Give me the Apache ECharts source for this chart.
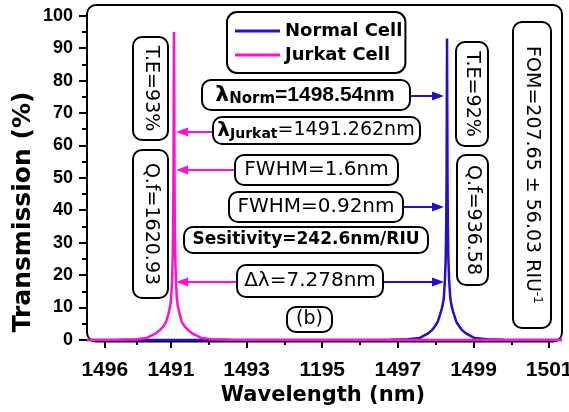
<!DOCTYPE html>
<html><head><meta charset="utf-8">
<script src="https://cdn.jsdelivr.net/npm/echarts@6/dist/echarts.min.js"></script>
<style>html,body{margin:0;padding:0;background:#fff}#c{width:569px;height:412px}</style>
</head><body><div id="c"></div>
<script>
// ---- data ----
const normalX = [1488.78, 1496.80, 1497.25, 1497.58, 1497.80, 1497.91, 1497.98, 1498.05, 1498.13, 1498.18, 1498.215, 1498.245, 1498.265, 1498.278, 1498.288, 1498.295, 1498.30, 1498.305, 1498.312, 1498.322, 1498.335, 1498.355, 1498.385, 1498.42, 1498.47, 1498.55, 1498.62, 1498.69, 1498.80, 1499.02, 1499.35, 1499.80, 1501.34];
const normalY = [0, 0.05, 0.2, 0.6, 2.0, 3.1, 4.2, 5.5, 8.3, 10.5, 13, 18.5, 25, 35, 50, 75, 93, 75, 50, 35, 25, 18.5, 13, 10.5, 8.3, 5.5, 4.2, 3.1, 2.0, 0.6, 0.2, 0.05, 0];
const jurkatX = [1488.78, 1489.60, 1490.08, 1490.36, 1490.60, 1490.71, 1490.80, 1490.87, 1490.94, 1490.98, 1491.005, 1491.03, 1491.045, 1491.058, 1491.066, 1491.073, 1491.08, 1491.087, 1491.094, 1491.102, 1491.115, 1491.13, 1491.155, 1491.18, 1491.22, 1491.29, 1491.36, 1491.45, 1491.56, 1491.80, 1492.08, 1492.56, 1493.40, 1501.34];
const jurkatY = [0, 0.05, 0.2, 0.6, 2.0, 3.1, 4.2, 5.5, 8.3, 10.5, 13, 18.5, 25, 35, 50, 75, 95, 75, 50, 35, 25, 18.5, 13, 10.5, 8.3, 5.5, 4.2, 3.1, 2.0, 0.6, 0.2, 0.05, 0, 0];
const seriesNames = ['Normal Cell', 'Jurkat Cell'];
const xTickValues = [1489.25, 1491, 1493, 1495, 1497, 1499, 1501];
const xTickLabels = ['1496', '1491', '1493', '1195', '1497', '1499', '1501'];
const xMinorTicks = [1490.1, 1492, 1494, 1496, 1498, 1500];
const yTickValues = [0, 10, 20, 30, 40, 50, 60, 70, 80, 90, 100];
const yMinorTicks = [5, 15, 25, 35, 45, 55, 65, 75, 85, 95];

const BLUE = '#2410c8', PINK = '#ff10d4';
const zip = (xs, ys) => xs.map((x, i) => [x, ys[i]]);

const chart = echarts.init(document.getElementById('c'));

const G = [];
function box(x, y, w, h) {
  G.push({type: 'rect', shape: {x, y, width: w, height: h, r: 9}, style: {fill: '#fff', stroke: '#000', lineWidth: 2}, z: 10});
}
function txt(cx, cy, style, rot) {
  G.push({type: 'text', x: cx, y: cy, rotation: rot || 0,
    style: Object.assign({fill: '#000', align: 'center', verticalAlign: 'middle'}, style), z: 11});
}
function arrow(x1, x2, y, color) {
  const d = Math.sign(x2 - x1);
  G.push({type: 'line', shape: {x1, y1: y, x2: x2 - d * 8, y2: y}, style: {stroke: color, lineWidth: 2}, z: 9});
  G.push({type: 'polygon', shape: {points: [[x2, y], [x2 - d * 12, y - 4.5], [x2 - d * 12, y + 4.5]]}, style: {fill: color}, z: 9});
}
const DJ = '"DejaVu Sans"', LS = '"Liberation Sans", Arial';

// frame
G.push({type: 'rect', shape: {x: 87, y: 5, width: 475, height: 336.5, r: 9}, style: {fill: 'none', stroke: '#000', lineWidth: 2}, z: 1});

// lambda Norm
box(202, 80, 208, 30);
txt(305, 95, {text: '{l|λ}{s|Norm}{a|=1498.54nm}', rich: {
  l: {fontFamily: DJ, fontWeight: 'bold', fontSize: 22, lineHeight: 24},
  a: {fontFamily: LS, fontWeight: 'bold', fontSize: 21, lineHeight: 24},
  s: {fontFamily: DJ, fontWeight: 'bold', fontSize: 15, verticalAlign: 'bottom', lineHeight: 15}}});
arrow(410, 444, 96, BLUE);
// lambda Jurkat
box(213, 117, 207, 27);
txt(316, 130.5, {text: '{a|λ}{s|Jurkat}{b|=1491.262nm}', rich: {
  a: {fontFamily: DJ, fontWeight: 'bold', fontSize: 20, lineHeight: 22},
  s: {fontFamily: DJ, fontWeight: 'bold', fontSize: 14, verticalAlign: 'bottom', lineHeight: 14},
  b: {fontFamily: DJ, fontSize: 19, lineHeight: 22}}});
arrow(213, 176, 132, PINK);
// FWHM 1.6
box(235, 155, 163, 30);
txt(316.5, 170, {text: 'FWHM=1.6nm', fontFamily: DJ, fontSize: 20});
arrow(235, 176, 170, PINK);
// FWHM 0.92
box(229, 192, 174, 30);
txt(316, 207, {text: 'FWHM=0.92nm', fontFamily: DJ, fontSize: 20});
arrow(403, 444, 207, BLUE);
// Sensitivity
box(184, 227, 244, 26);
txt(306, 240, {text: 'Sesitivity=242.6nm/RIU', fontFamily: DJ, fontWeight: 'bold', fontSize: 17});
// delta lambda
box(237, 265, 146, 32);
txt(310, 281, {text: 'Δλ=7.278nm', fontFamily: DJ, fontSize: 20});
arrow(237, 176, 282, PINK);
arrow(383, 444, 282, BLUE);
// (b)
box(287, 307, 45, 25);
txt(309.5, 319.5, {text: '(b)', fontFamily: DJ, fontSize: 19});
// vertical boxes
const R = -Math.PI / 2;
box(133, 37, 35, 103);
txt(150.5, 88.5, {text: 'T.E=93%', fontFamily: DJ, fontSize: 19}, R);
box(133, 150, 35, 148);
txt(150.5, 224, {text: 'Q.f=1620.93', fontFamily: DJ, fontSize: 19}, R);
box(456, 42, 32, 104);
txt(472, 94, {text: 'T.E=92%', fontFamily: DJ, fontSize: 19}, R);
box(457, 155, 31, 130);
txt(472.5, 220, {text: 'Q.f=936.58', fontFamily: DJ, fontSize: 19}, R);
box(513, 22, 38, 306);
txt(532, 175, {text: '{a|FOM=207.65 ± 56.03 RIU}{s|-1}', rich: {
  a: {fontFamily: DJ, fontSize: 19, lineHeight: 22},
  s: {fontFamily: DJ, fontSize: 12, verticalAlign: 'top', lineHeight: 12}}}, R);
// axis titles
txt(323, 396, {text: 'Wavelength (nm)', fontFamily: DJ, fontWeight: 'bold', fontSize: 21});
txt(23, 212, {text: 'Transmission (%)', fontFamily: DJ, fontWeight: 'bold', fontSize: 25}, Math.PI / 2);

const xCommon = {type: 'value', min: 1488.78, max: 1501.34, axisLine: {show: false}, splitLine: {show: false}};
const yCommon = {type: 'value', min: -0.5, max: 103.3, axisLine: {show: false}, splitLine: {show: false}};

chart.setOption({
  animation: false,
  backgroundColor: '#fff',
  grid: {left: 87, right: 7, top: 5, bottom: 70.5, containLabel: false, outerBoundsMode: 'none'},
  legend: {
    data: seriesNames, orient: 'vertical', left: 227, top: 12,
    icon: 'rect', itemWidth: 45, itemHeight: 3, itemGap: 4,
    borderColor: '#000', borderWidth: 2, borderRadius: 10, padding: [9, 3, 8, 8],
    backgroundColor: '#fff',
    textStyle: {fontFamily: DJ, fontWeight: 'bold', fontSize: 18, color: '#000', lineHeight: 20}
  },
  xAxis: [
    Object.assign({}, xCommon, {
      axisTick: {show: true, inside: false, length: 8, customValues: xTickValues, lineStyle: {color: '#000', width: 2}},
      axisLabel: {customValues: xTickValues, margin: 18, color: '#000', fontFamily: LS, fontWeight: 'bold', fontSize: 21,
        formatter: v => { const i = xTickValues.findIndex(t => Math.abs(t - v) < 1e-6); return i >= 0 ? xTickLabels[i] : ''; }}
    }),
    Object.assign({}, xCommon, {
      axisTick: {show: true, inside: false, length: 5, customValues: xMinorTicks, lineStyle: {color: '#000', width: 2}},
      axisLabel: {show: false}, position: 'bottom'
    })
  ],
  yAxis: [
    Object.assign({}, yCommon, {
      axisTick: {show: true, inside: false, length: 8, customValues: yTickValues, lineStyle: {color: '#000', width: 2}},
      axisLabel: {customValues: yTickValues, margin: 14, color: '#000', fontFamily: LS, fontWeight: 'bold', fontSize: 18}
    }),
    Object.assign({}, yCommon, {
      axisTick: {show: true, inside: false, length: 5, customValues: yMinorTicks, lineStyle: {color: '#000', width: 2}},
      axisLabel: {show: false}, position: 'left'
    })
  ],
  series: [
    {name: seriesNames[0], type: 'line', data: zip(normalX, normalY), showSymbol: false, symbol: 'none',
      lineStyle: {color: BLUE, width: 2.5}, itemStyle: {color: BLUE}, z: 3},
    {name: seriesNames[1], type: 'line', data: zip(jurkatX, jurkatY), showSymbol: false, symbol: 'none',
      lineStyle: {color: PINK, width: 2.5}, itemStyle: {color: PINK}, z: 4}
  ],
  graphic: G
});
</script></body></html>
